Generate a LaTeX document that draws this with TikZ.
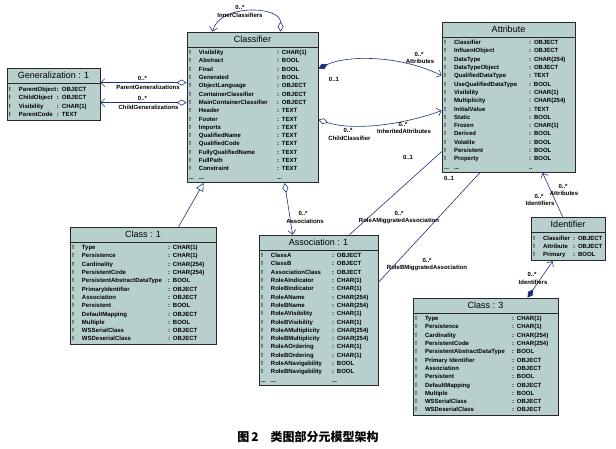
\documentclass[tikz,border=0pt]{standalone}
\usepackage{fontspec}
\setmainfont{Liberation Sans}
\newfontfamily\cjkfont{Noto Sans CJK SC}
\usepackage{tikz}
\usetikzlibrary{arrows.meta,positioning,calc}

\definecolor{clsfill}{RGB}{184,208,205}
\definecolor{clsline}{RGB}{40,40,40}
\definecolor{linkblue}{RGB}{30,50,115}

\tikzset{
    odiamond/.tip={Diamond[open, length=10pt, width=6pt]},
    fdiamond/.tip={Diamond[length=10pt, width=6pt]},
    navtip/.tip={Straight Barb[length=4pt, width=8pt]},
    gentip/.tip={Triangle[open, length=8pt, width=8pt]}
}

\newcommand{\fieldtab}[2]{\begin{tabular}{@{}p{10pt}@{}p{#1}@{}l@{}}#2\end{tabular}}

\begin{document}
\begin{tikzpicture}[
    x=1pt, y=-1pt,
    clshead/.style={rectangle, draw=clsline, line width=0.8pt, fill=clsfill, minimum height=15pt, inner sep=0pt, font=\fontsize{9}{10}\selectfont},
    clsbody/.style={rectangle, draw=clsline, line width=0.8pt, fill=clsfill, inner xsep=2pt, inner ysep=1pt, align=left, font=\fontsize{6}{8.3}\selectfont\bfseries},
    umlline/.style={draw=linkblue, line width=0.6pt},
    rolelabel/.style={inner sep=0pt, font=\fontsize{6}{7}\selectfont\bfseries},
    figcaption/.style={font=\cjkfont\bfseries\fontsize{12}{14}\selectfont}
]
\useasboundingbox (0,0) rectangle (616,448);

% Classifier
\node[clshead, minimum width=131pt] (classifier) at (252.5,39.5) {Classifier};
\node[clsbody, text width=127pt, below=0pt of classifier] (classifier_body) {\fieldtab{78pt}{%
! & Visibility & : CHAR(1)\\
! & Abstract & : BOOL\\
! & Final & : BOOL\\
! & Generated & : BOOL\\
! & ObjectLanguage & : OBJECT\\
! & ContainerClassifier & : OBJECT\\
! & MainContainerClassifier & : OBJECT\\
! & Header & : TEXT\\
! & Footer & : TEXT\\
! & Imports & : TEXT\\
! & QualifiedName & : TEXT\\
! & QualifiedCode & : TEXT\\
! & FullyQualifiedName & : TEXT\\
! & FullPath & : TEXT\\
! & Constraint & : TEXT\\
... & ... & ...}};

% Generalization
\node[clshead, minimum width=93pt] (generalization) at (53.5,75.5) {Generalization : 1};
\node[clsbody, text width=89pt, minimum height=37pt, below=0pt of generalization] (generalization_body) {\fieldtab{38pt}{%
! & ParentObject & : OBJECT\\
! & ChildObject & : OBJECT\\
! & Visibility & : CHAR(1)\\
! & ParentCode & : TEXT}};

% Attribute
\node[clshead, minimum width=133pt] (attribute) at (508.5,29.5) {Attribute};
\node[clsbody, text width=129pt, below=0pt of attribute] (attribute_body) {\fieldtab{75pt}{%
! & Classifier & : OBJECT\\
! & InfluentObject & : OBJECT\\
! & DataType & : CHAR(254)\\
! & DataTypeObject & : OBJECT\\
! & QualifiedDataType & : TEXT\\
! & UseQualifiedDataType & : BOOL\\
! & Visibility & : CHAR(1)\\
! & Multiplicity & : CHAR(254)\\
! & InitialValue & : TEXT\\
! & Static & : BOOL\\
! & Frozen & : CHAR(1)\\
! & Derived & : BOOL\\
! & Volatile & : BOOL\\
! & Persistent & : BOOL\\
! & Property & : BOOL\\
... & ... & ..}};

% Class : 1
\node[clshead, minimum width=146pt] (class_one) at (143,234.5) {Class : 1};
\node[clsbody, text width=142pt, below=0pt of class_one] (class_one_body) {\fieldtab{86pt}{%
! & Type & : CHAR(1)\\
! & Persistence & : CHAR(1)\\
! & Cardinality & : CHAR(254)\\
! & PersistentCode & : CHAR(254)\\
! & PersistentAbstractDataType & : BOOL\\
! & PrimaryIdentifier & : OBJECT\\
! & Association & : OBJECT\\
! & Persistent & : BOOL\\
! & DefaultMapping & : OBJECT\\
! & Multiple & : BOOL\\
! & WSSerialClass & : OBJECT\\
! & WSDeserialClass & : OBJECT}};

% Association : 1
\node[clshead, minimum width=119pt] (association) at (318.5,242.5) {Association : 1};
\node[clsbody, text width=115pt, below=0pt of association] (association_body) {\fieldtab{61pt}{%
! & ClassA & : OBJECT\\
! & ClassB & : OBJECT\\
! & AssociationClass & : OBJECT\\
! & RoleAIndicator & : CHAR(1)\\
! & RoleBIndicator & : CHAR(1)\\
! & RoleAName & : CHAR(254)\\
! & RoleBName & : CHAR(254)\\
! & RoleAVisibility & : CHAR(1)\\
! & RoleBVisibility & : CHAR(1)\\
! & RoleAMultiplicity & : CHAR(254)\\
! & RoleBMultiplicity & : CHAR(254)\\
! & RoleAOrdering & : CHAR(1)\\
! & RoleBOrdering & : CHAR(1)\\
! & RoleANavigability & : BOOL\\
! & RoleBNavigability & : BOOL\\
... & ... & ...}};

% Identifier
\node[clshead, minimum width=74pt] (identifier) at (568,224.5) {Identifier};
\node[clsbody, text width=70pt, minimum height=28pt, below=0pt of identifier] (identifier_body) {\fieldtab{30pt}{%
! & Classifier & : OBJECT\\
! & Attribute & : OBJECT\\
! & Primary & : BOOL}};

% Class : 3
\node[clshead, minimum width=145pt] (class_three) at (485.5,305.5) {Class : 3};
\node[clsbody, text width=141pt, below=0pt of class_three] (class_three_body) {\fieldtab{87pt}{%
! & Type & : CHAR(1)\\
! & Persistence & : CHAR(1)\\
! & Cardinality & : CHAR(254)\\
! & PersistentCode & : CHAR(254)\\
! & PersistentAbstractDataType & : BOOL\\
! & Primary Identifier & : OBJECT\\
! & Association & : OBJECT\\
! & Persistent & : BOOL\\
! & DefaultMapping & : OBJECT\\
! & Multiple & : BOOL\\
! & WSSerialClass & : OBJECT\\
! & WSDeserialClass & : OBJECT}};

% Links
\draw[umlline, odiamond-navtip] ($(classifier.north west)+(94,0)$) .. controls +(0,-26) and +(6,-28) .. ($(classifier.north west)+(26,0)$);
\draw[umlline, odiamond-navtip] ($(classifier.north west)+(0,51)$) -- ($(generalization.north east)+(0,15)$);
\draw[umlline, odiamond-navtip] ($(classifier.north west)+(0,71)$) -- ($(generalization.north east)+(0,35)$);
\draw[umlline, fdiamond-navtip] ($(classifier.north east)+(0,37)$) .. controls +(30,-14) and +(-40,-20) .. ($(attribute.north west)+(0,54)$);
\draw[umlline, odiamond-navtip] ($(classifier.north east)+(0,88)$) .. controls +(30,10) and +(-47,17) .. ($(attribute.north west)+(0,89)$);
\draw[umlline, -gentip] ($(class_one.north west)+(109,0)$) -- ($(classifier_body.south west)+(17,0)$);
\draw[umlline, odiamond-navtip] ($(classifier_body.south west)+(98,0)$) -- ($(association.north west)+(34,0)$);
\draw[umlline] ($(association.north west)+(91,0)$) -- ($(attribute.north west)+(0,130)$);
\draw[umlline] ($(association_body.north east)+(0,32)$) -- ($(attribute_body.south west)+(38,0)$);
\draw[umlline, -navtip] ($(identifier.north west)+(32,0)$) -- ($(attribute_body.south west)+(101,0)$);
\draw[umlline, fdiamond-navtip] ($(class_three.north west)+(115,0)$) -- ($(identifier_body.south west)+(22,0)$);

% Role labels
\node[rolelabel] (inner_mult) at (240,7) {0..*};
\node[rolelabel] (inner_role) at (240,15) {InnerClassifiers};
\node[rolelabel] (pgen_mult) at (142.5,78) {0..*};
\node[rolelabel] (pgen_role) at (148,87) {ParentGeneralizations};
\node[rolelabel] (cgen_mult) at (142.5,98) {0..*};
\node[rolelabel] (cgen_role) at (148.5,107) {ChildGeneralizations};
\node[rolelabel] (attr_owner) at (334,79) {0..1};
\node[rolelabel] (attr_mult) at (419,54) {0..*};
\node[rolelabel] (attr_role) at (420,61) {Attributes};
\node[rolelabel] (inh_mult) at (403,124) {0..*};
\node[rolelabel] (inh_role) at (404,131) {InheritedAttributes};
\node[rolelabel] (child_mult) at (348,130) {0..*};
\node[rolelabel] (child_role) at (349.5,138) {ChildClassifier};
\node[rolelabel] (assoc_mult) at (303,213) {0..*};
\node[rolelabel] (assoc_role) at (305,221) {Associations};
\node[rolelabel] (rolea_owner) at (408,157) {0..1};
\node[rolelabel] (rolea_mult) at (399,213) {0..*};
\node[rolelabel] (rolea_role) at (399,221) {RoleAMiggratedAssociation};
\node[rolelabel] (roleb_owner) at (449,178) {0..1};
\node[rolelabel] (roleb_mult) at (427,260) {0..*};
\node[rolelabel] (roleb_role) at (427,268) {RoleBMiggratedAssociation};
\node[rolelabel] (idattr_mult) at (563,186) {0..*};
\node[rolelabel] (idattr_role) at (564,193) {Attributes};
\node[rolelabel] (attrid_mult) at (539,196) {0..*};
\node[rolelabel] (attrid_role) at (540,203) {Identifiers};
\node[rolelabel] (clsid_mult) at (532,274) {0..*};
\node[rolelabel] (clsid_role) at (533,282) {Identifiers};

% Caption
\node[figcaption] (fig_caption) at (308,437) {图\,2\quad 类图部分元模型架构};

\end{tikzpicture}
\end{document}
